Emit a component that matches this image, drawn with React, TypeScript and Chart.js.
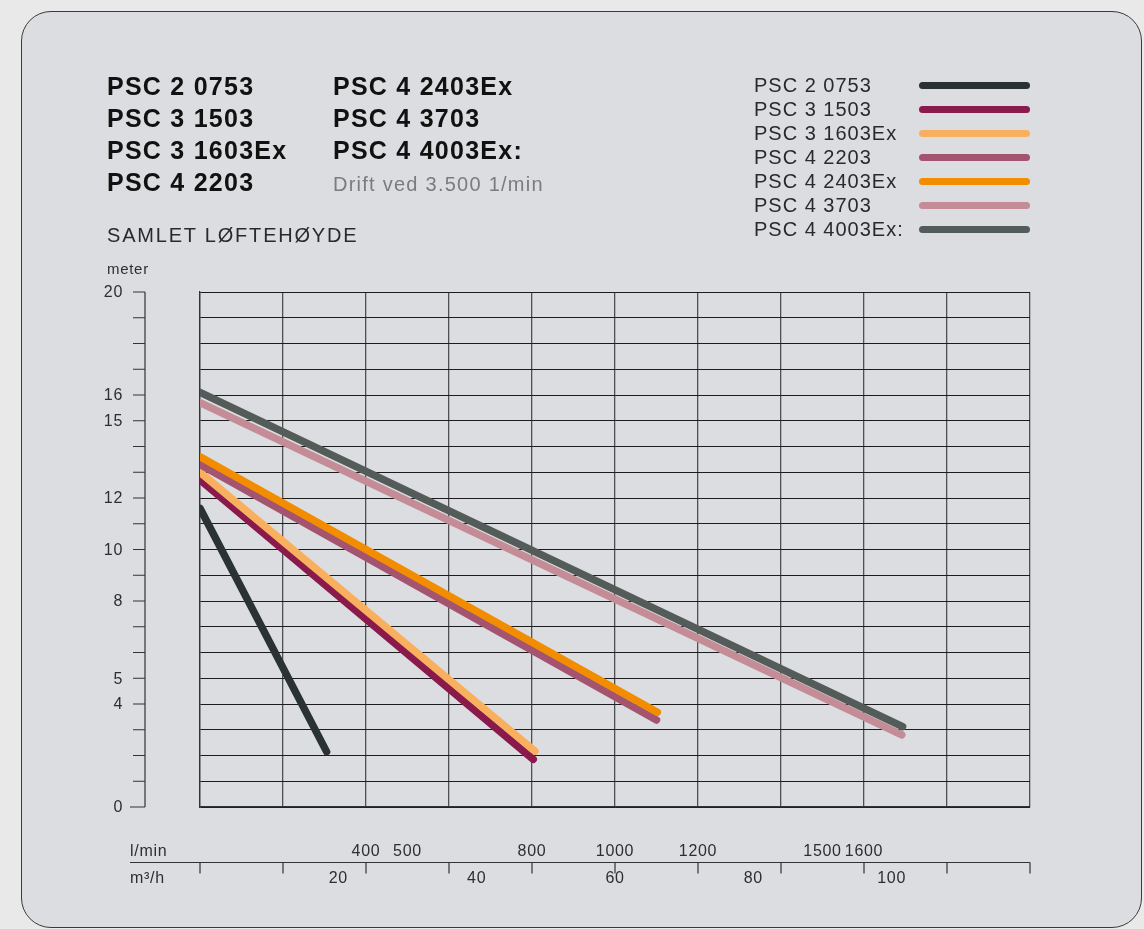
import React, { useEffect, useRef } from 'react';
import Chart from 'chart.js/auto';

// pump curves: flow in l/min, head in meter (start and end of each straight line)
const seriesNames = [
  'PSC 2 0753',
  'PSC 3 1503',
  'PSC 3 1603Ex',
  'PSC 4 2203',
  'PSC 4 2403Ex',
  'PSC 4 3703',
  'PSC 4 4003Ex:',
];
const seriesColors = ['#2b3233', '#8a1a4b', '#f9b05e', '#a4546e', '#f28c00', '#c38c97', '#545c5a'];
const flowStart = [0, 0, 0, 0, 0, 0, 0];
const headStart = [11.6, 12.7, 13.0, 13.3, 13.6, 15.7, 16.1];
const flowEnd = [305, 803, 807, 1100, 1102, 1691, 1693];
const headEnd = [2.15, 1.85, 2.17, 3.38, 3.68, 2.8, 3.12];

const headTickLabels = [0, 4, 5, 8, 10, 12, 15, 16, 20];
const lpmTickLabels = [400, 500, 800, 1000, 1200, 1500, 1600];
const m3hTickLabels = [20, 40, 60, 80, 100];

const headerLeft = ['PSC 2 0753', 'PSC 3 1503', 'PSC 3 1603Ex', 'PSC 4 2203'];
const headerRight = ['PSC 4 2403Ex', 'PSC 4 3703', 'PSC 4 4003Ex:'];

const FONT = '"Liberation Sans", Arial, Helvetica, sans-serif';

// draws the detached left axis and the two bottom axes from the chart's scales
const sideAxes = {
  id: 'sideAxes',
  afterDraw(chart: any) {
    const { ctx, chartArea, scales } = chart;
    const xs = scales.x;
    const ys = scales.y;
    ctx.save();
    ctx.strokeStyle = '#333';
    ctx.fillStyle = '#2e2e2e';
    ctx.lineWidth = 1.2;
    ctx.font = '16px ' + FONT;
    ctx.letterSpacing = '0.7px';

    // left axis
    const ax = chartArea.left - 55;
    ctx.beginPath();
    ctx.moveTo(ax, ys.getPixelForValue(0));
    ctx.lineTo(ax, ys.getPixelForValue(20));
    ys.ticks.forEach((t: any) => {
      const py = ys.getPixelForValue(t.value);
      ctx.moveTo(ax - (t.value === 0 ? 15 : 12), py);
      ctx.lineTo(ax, py);
    });
    ctx.stroke();
    ctx.textAlign = 'right';
    ctx.textBaseline = 'middle';
    headTickLabels.forEach((v) => {
      ctx.fillText(String(v), ax - 22, ys.getPixelForValue(v) + 1);
    });

    ctx.font = '15px ' + FONT;
    ctx.textAlign = 'left';
    ctx.textBaseline = 'alphabetic';
    ctx.fillText('meter', ax - 38, ys.getPixelForValue(20) - 18);

    // bottom axes
    const by = chartArea.bottom + 55.5;
    ctx.beginPath();
    ctx.moveTo(chartArea.left - 70, by);
    ctx.lineTo(chartArea.right, by);
    xs.ticks.forEach((t: any) => {
      const px = xs.getPixelForValue(t.value);
      ctx.moveTo(px, by);
      ctx.lineTo(px, by + 11);
    });
    ctx.stroke();

    ctx.font = '16px ' + FONT;
    ctx.textAlign = 'left';
    ctx.fillText('l/min', chartArea.left - 70, by - 7);
    ctx.fillText('m³/h', chartArea.left - 70, by + 20);
    ctx.textAlign = 'center';
    lpmTickLabels.forEach((v) => {
      ctx.fillText(String(v), xs.getPixelForValue(v), by - 7);
    });
    m3hTickLabels.forEach((v) => {
      ctx.fillText(String(v), xs.getPixelForValue((v * 1000) / 60), by + 20);
    });
    ctx.restore();
  },
};

const PumpChart: React.FC = () => {
  const chartRef = useRef<HTMLCanvasElement>(null);

  useEffect(() => {
    if (!chartRef.current) return;
    const ctx = chartRef.current.getContext('2d');
    if (!ctx) return;

    const datasets = seriesNames.map((name, i) => ({
      label: name,
      data: [
        { x: flowStart[i], y: headStart[i] },
        { x: flowEnd[i], y: headEnd[i] },
      ],
      borderColor: seriesColors[i],
      backgroundColor: seriesColors[i],
      borderWidth: 7.5,
      borderCapStyle: 'round' as const,
      pointRadius: 0,
      fill: false,
      clip: 0,
      order: seriesNames.length - i,
    }));

    const chart = new Chart(ctx, {
      type: 'line',
      data: { datasets },
      options: {
        animation: false,
        responsive: true,
        maintainAspectRatio: false,
        layout: { padding: { left: 200, right: 114, top: 292, bottom: 122 } },
        scales: {
          x: {
            type: 'linear',
            min: 0,
            max: 2000,
            ticks: { display: false, stepSize: 200 },
            grid: { color: '#505050', lineWidth: 1.3, drawTicks: false },
            border: { display: true, color: '#333', width: 1.3 },
            afterFit: (s: any) => { s.height = 0; },
          },
          y: {
            type: 'linear',
            min: 0,
            max: 20,
            ticks: { display: false, stepSize: 1 },
            grid: { color: '#1c1c1c', lineWidth: 1, drawTicks: false },
            border: { display: true, color: '#333', width: 1.3 },
            afterFit: (s: any) => { s.width = 0; },
          },
        },
        plugins: {
          legend: { display: false },
          tooltip: { enabled: false },
        },
      },
      plugins: [sideAxes],
    });

    return () => {
      chart.destroy();
    };
  }, []);

  return (
    <div style={{ position: 'absolute', left: 0, top: 0, width: 1144, height: 929 }}>
      <canvas ref={chartRef}></canvas>
    </div>
  );
};

const App: React.FC = () => {
  return (
    <div
      style={{
        position: 'absolute',
        left: 0,
        top: 0,
        width: 1144,
        height: 929,
        overflow: 'hidden',
        background: '#e9e9e9',
        fontFamily: FONT,
      }}
    >
      <div
        style={{
          position: 'absolute',
          left: 21,
          top: 11,
          width: 1121,
          height: 917,
          boxSizing: 'border-box',
          border: '1px solid #3a3a3a',
          borderRadius: 30,
          background: '#dcdde0',
        }}
      />
      <PumpChart />

      <div style={{ position: 'absolute', left: 107, top: 70, fontSize: 25, lineHeight: '32px', fontWeight: 700, letterSpacing: '0.05em', color: '#111' }}>
        {headerLeft.map((t) => <div key={t}>{t}</div>)}
      </div>
      <div style={{ position: 'absolute', left: 333, top: 70, fontSize: 25, lineHeight: '32px', fontWeight: 700, letterSpacing: '0.05em', color: '#111' }}>
        {headerRight.map((t) => <div key={t}>{t}</div>)}
        <div style={{ fontSize: 20, fontWeight: 400, color: '#7a7c7c', marginTop: 2 }}>Drift ved 3.500 1/min</div>
      </div>

      <div style={{ position: 'absolute', left: 107, top: 225, fontSize: 20, lineHeight: '20px', letterSpacing: '1.8px', color: '#2a2a2a' }}>
        SAMLET LØFTEHØYDE
      </div>

      <div style={{ position: 'absolute', left: 754, top: 73, width: 276 }}>
        {seriesNames.map((name, i) => (
          <div key={name} style={{ display: 'flex', alignItems: 'center', height: 24, fontSize: 20, letterSpacing: '0.05em', color: '#2a2a2a' }}>
            <span style={{ flex: 1, whiteSpace: 'nowrap' }}>{name}</span>
            <span style={{ width: 111, height: 7, borderRadius: 4, background: seriesColors[i] }} />
          </div>
        ))}
      </div>
    </div>
  );
};

export default App;
